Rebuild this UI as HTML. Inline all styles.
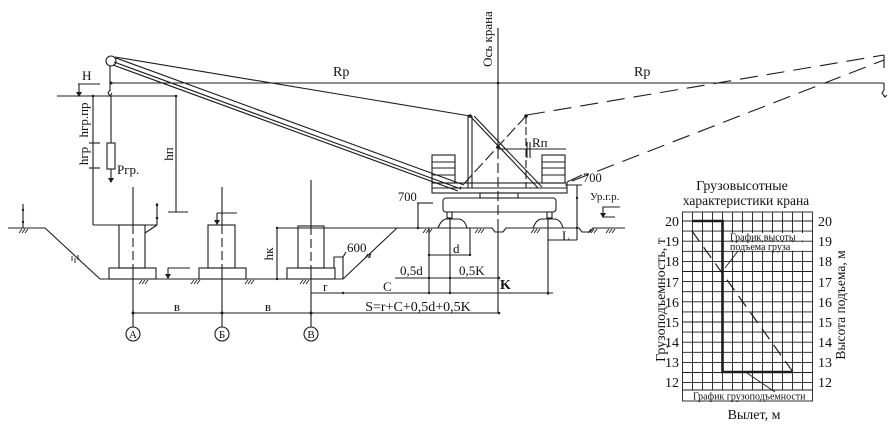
<!DOCTYPE html>
<html><head><meta charset="utf-8"><style>
html,body{margin:0;padding:0;background:#fff;}
svg{display:block}
text{font-family:"Liberation Serif","DejaVu Serif",serif;fill:#111}
</style></head><body>
<svg width="894" height="426" viewBox="0 0 894 426" xmlns="http://www.w3.org/2000/svg">
<rect width="894" height="426" fill="#fff"/>
<g stroke="#1c1c1c" stroke-width="1.1" fill="none">
<!-- boom tip -->
<circle cx="111" cy="61" r="5"/>
<line x1="115" y1="57" x2="470" y2="116"/>
<line x1="116" y1="58" x2="464" y2="185"/>
<line x1="114" y1="62" x2="461" y2="189"/>
<line x1="113" y1="65" x2="458" y2="191"/>
<!-- Rp line -->
<line x1="111" y1="83" x2="884" y2="83"/>
<!-- hook & load -->
<line x1="110" y1="66" x2="110" y2="91"/>
<path d="M110,90 l-2,3 l2,3 l2,-3"/>
<line x1="57" y1="96" x2="177" y2="96"/>
<line x1="111" y1="96" x2="111" y2="143"/>
<rect x="107" y="143" width="8" height="26"/>
<line x1="111" y1="169" x2="111" y2="180"/>
<!-- H leader -->
<line x1="78" y1="84" x2="100" y2="84"/>
<line x1="79" y1="84" x2="79" y2="93"/>
<!-- hgr dims -->
<line x1="93" y1="96" x2="93" y2="225"/>
<line x1="89" y1="143" x2="100" y2="143"/>
<line x1="89" y1="168" x2="100" y2="168"/>
<line x1="176" y1="96" x2="176" y2="212"/>
<line x1="168" y1="212" x2="188" y2="212"/>
<!-- left tick -->
<line x1="23" y1="204" x2="23" y2="228"/>
<!-- ground -->
<path d="M8,228 L45,228 L100,279 L343,279 L397,228 L492,228 L495,232 L503,232 L506,228 L579,228 L582,232 L590,232 L593,228 L625,228"/>
<line x1="277" y1="228" x2="397" y2="228"/>
<!-- pier A -->
<line x1="93" y1="225" x2="157" y2="225"/>
<rect x="119" y="225" width="26" height="43"/>
<line x1="145" y1="233" x2="157" y2="225"/>
<line x1="157" y1="203" x2="157" y2="225"/>
<rect x="109" y="268" width="47" height="11"/>
<!-- level marker -->
<line x1="168" y1="268" x2="190" y2="268"/>
<line x1="168" y1="268" x2="168" y2="275"/>
<!-- pier B -->
<rect x="208" y="225" width="27" height="43"/>
<rect x="199" y="268" width="47" height="11"/>
<line x1="217" y1="213" x2="237" y2="213"/>
<line x1="217" y1="213" x2="217" y2="221"/>
<!-- pier V -->
<rect x="298" y="226" width="26" height="42"/>
<rect x="287" y="268" width="48" height="11"/>
<path d="M334,268 L334,257 L343,257 L343,279"/>
<line x1="343" y1="257" x2="346" y2="252"/>
<!-- hk -->
<line x1="277" y1="228" x2="277" y2="279"/>
<!-- centerlines -->
<line x1="133" y1="187" x2="133" y2="225"/>
<line x1="133" y1="225" x2="133" y2="268" stroke-dasharray="9,4"/>
<line x1="133" y1="268" x2="133" y2="327"/>
<line x1="222" y1="187" x2="222" y2="225"/>
<line x1="222" y1="225" x2="222" y2="268" stroke-dasharray="9,4"/>
<line x1="222" y1="268" x2="222" y2="327"/>
<line x1="311" y1="180" x2="311" y2="226"/>
<line x1="311" y1="226" x2="311" y2="268" stroke-dasharray="9,4"/>
<line x1="311" y1="268" x2="311" y2="327"/>
<circle cx="133" cy="334" r="7"/>
<circle cx="222" cy="334" r="7"/>
<circle cx="311" cy="334" r="7"/>
<!-- dims -->
<line x1="133" y1="313" x2="499" y2="313"/>
<line x1="311" y1="293" x2="553" y2="293"/>
<line x1="395" y1="278" x2="499" y2="278"/>
<line x1="429" y1="255" x2="470" y2="255"/>
<line x1="429" y1="228" x2="429" y2="293"/>
<line x1="450" y1="218" x2="450" y2="293"/>
<line x1="470" y1="228" x2="470" y2="256"/>
<line x1="548" y1="218" x2="548" y2="295"/>
<line x1="577" y1="185" x2="577" y2="240"/>
<line x1="548" y1="240" x2="577" y2="240"/>
<line x1="565" y1="185" x2="582" y2="185"/>
<line x1="418" y1="203" x2="418" y2="228"/>
<line x1="417" y1="203" x2="433" y2="203"/>
<line x1="567" y1="182" x2="582" y2="175"/>
<!-- axis -->
<line x1="498" y1="28" x2="498" y2="135"/>
<line x1="498" y1="135" x2="498" y2="225" stroke-dasharray="10,4"/>
<line x1="498" y1="225" x2="498" y2="313"/>
<!-- mast -->
<line x1="468" y1="116" x2="468" y2="188"/>
<line x1="472" y1="116" x2="472" y2="188"/>
<line x1="470" y1="116" x2="538" y2="188"/>
<line x1="474" y1="116" x2="542" y2="187"/>
<line x1="526" y1="116" x2="526" y2="188" stroke-dasharray="8,3"/>
<line x1="526" y1="116" x2="460" y2="188" stroke-dasharray="12,4"/>
<line x1="498" y1="149" x2="566" y2="149"/>
<line x1="527" y1="142" x2="527" y2="158"/>
<line x1="530" y1="142" x2="530" y2="158"/>
<!-- counterweights -->
<rect x="432" y="155" width="23" height="28"/>
<line x1="432" y1="162" x2="455" y2="162"/>
<line x1="432" y1="168" x2="455" y2="168"/>
<line x1="432" y1="175" x2="455" y2="175"/>
<rect x="542" y="155" width="23" height="28"/>
<line x1="542" y1="162" x2="565" y2="162"/>
<line x1="542" y1="168" x2="565" y2="168"/>
<line x1="542" y1="175" x2="565" y2="175"/>
<rect x="432" y="183" width="135" height="10"/>
<line x1="432" y1="188" x2="567" y2="188"/>
<rect x="480" y="193" width="38" height="5"/>
<rect x="443" y="198" width="113" height="14" rx="3"/>
<rect x="447" y="212" width="5" height="6"/>
<rect x="547" y="212" width="5" height="6"/>
<path d="M438,228 Q441,220 446,219 L459,219 Q465,220 467,228"/>
<path d="M533,228 Q536,220 541,219 L555,219 Q561,220 563,228"/>
<!-- dashed boom -->
<line x1="527" y1="115" x2="884" y2="55" stroke-dasharray="18,9"/>
<line x1="572" y1="181" x2="884" y2="60" stroke-dasharray="18,9"/>
<line x1="884" y1="55" x2="884" y2="68"/>
<path d="M884,83 L884,90 l-2,3 l3,4 l2,-2"/>
<!-- Ur.g.r -->
<path d="M620,207 L603,207 L603,217 L615,217"/>
<!-- hatches -->
<path d="M19,233 l3,-4 M22,233 l3,-4 M25,233 l3,-4
M139,284 l3,-4 M142,284 l3,-4 M145,284 l3,-4
M191,284 l3,-4 M194,284 l3,-4 M197,284 l3,-4
M245,284 l3,-4 M248,284 l3,-4 M251,284 l3,-4
M300,284 l3,-4 M303,284 l3,-4 M306,284 l3,-4
M423,233 l3,-4 M426,233 l3,-4 M429,233 l3,-4
M475,233 l3,-4 M478,233 l3,-4 M481,233 l3,-4
M531,233 l3,-4 M534,233 l3,-4 M537,233 l3,-4
M588,233 l3,-4 M591,233 l3,-4 M594,233 l3,-4
M606,233 l3,-4 M609,233 l3,-4 M612,233 l3,-4
M72,256 l0,5 M75,258 l0,5 M78,260 l0,-5
M365,258 l3,-4 M368,258 l3,-4 M370,258 l0,-5" stroke-width="0.9"/>
</g>
<!-- arrowheads / dots -->
<g fill="#1c1c1c">
<path d="M108,178 L114,178 L111,183 Z"/>
<path d="M76,92 L82,92 L79,97 Z"/>
<path d="M165,274 L171,274 L168,279 Z"/>
<path d="M214,220 L220,220 L217,225 Z"/>
<path d="M600,213 L606,213 L603,218 Z"/>
<circle cx="111" cy="83" r="1.5"/>
<circle cx="93" cy="96" r="1.3"/>
<circle cx="176" cy="96" r="1.3"/>
<circle cx="133" cy="313" r="1.5"/>
<circle cx="222" cy="313" r="1.5"/>
<circle cx="311" cy="313" r="1.5"/>
<circle cx="499" cy="313" r="1.3"/>
<circle cx="157" cy="205" r="1.3"/>
<circle cx="157" cy="218" r="1.3"/>
<circle cx="23" cy="210" r="1.2"/>
<circle cx="23" cy="222" r="1.2"/>
<circle cx="277" cy="228" r="1.2"/>
<circle cx="277" cy="279" r="1.2"/>
<circle cx="343" cy="293" r="1.2"/>
<circle cx="429" cy="293" r="1.2"/>
<circle cx="450" cy="293" r="1.2"/>
<circle cx="548" cy="293" r="1.2"/>
<circle cx="429" cy="278" r="1.2"/>
<circle cx="450" cy="278" r="1.2"/>
<circle cx="499" cy="278" r="1.2"/>
<circle cx="429" cy="255" r="1.2"/>
<circle cx="470" cy="255" r="1.2"/>
<circle cx="577" cy="198" r="1.2"/>
<circle cx="577" cy="228" r="1.2"/>
<circle cx="418" cy="228" r="1.2"/>
<circle cx="498" cy="83" r="1.3"/>
<circle cx="498" cy="147" r="1.8"/>
<circle cx="470" cy="116" r="1.8"/>
<circle cx="526" cy="116" r="1.8"/>
</g>
<!-- labels -->
<g font-size="13">
<text x="82" y="80">H</text>
<text x="117" y="174">Pгр.</text>
<text transform="translate(88,120) rotate(-90)" text-anchor="middle">hгр.пр</text>
<text transform="translate(88,156) rotate(-90)" text-anchor="middle">hгр</text>
<text transform="translate(173,154) rotate(-90)" text-anchor="middle">hп</text>
<text transform="translate(273,254) rotate(-90)" text-anchor="middle">hк</text>
<text x="333" y="76" font-size="14">Rp</text>
<text x="634" y="76" font-size="14">Rp</text>
<text transform="translate(492,39) rotate(-90)" text-anchor="middle">Ось крана</text>
<text x="532" y="147">Rп</text>
<text x="398" y="201" font-size="12.5">700</text>
<text x="583" y="182" font-size="12.5">700</text>
<text x="347" y="252">600</text>
<text x="590" y="200" font-size="11">Ур.г.р.</text>
<text x="562" y="240">L</text>
<text x="453" y="253">d</text>
<text x="400" y="275">0,5d</text>
<text x="459" y="275">0,5K</text>
<text x="500" y="289" font-weight="bold" font-size="14">K</text>
<text x="383" y="291">C</text>
<text x="323" y="291">r</text>
<text x="418" y="311" text-anchor="middle" font-size="14">S=r+C+0,5d+0,5K</text>
<text x="177" y="311" text-anchor="middle">в</text>
<text x="268" y="311" text-anchor="middle">в</text>
<text x="133" y="338" text-anchor="middle" font-size="11">А</text>
<text x="222" y="338" text-anchor="middle" font-size="11">Б</text>
<text x="311" y="338" text-anchor="middle" font-size="11">В</text>
</g>
<!-- chart -->
<g stroke="#1c1c1c" stroke-width="0.9" fill="none">
<rect x="682.5" y="212" width="130" height="189"/>
<path d="M692.5,212V390 M702.5,212V390 M712.5,212V390 M722.5,212V390 M732.5,212V390 M742.5,212V390 M752.5,212V390 M762.5,212V390 M772.5,212V390 M782.5,212V390 M792.5,212V390 M802.5,212V390"/>
<path d="M682.5,221H812.5 M682.5,231.1H812.5 M682.5,241.2H812.5 M682.5,251.3H812.5 M682.5,261.4H812.5 M682.5,271.5H812.5 M682.5,281.6H812.5 M682.5,291.7H812.5 M682.5,301.8H812.5 M682.5,311.9H812.5 M682.5,322H812.5 M682.5,332.1H812.5 M682.5,342.2H812.5 M682.5,352.3H812.5 M682.5,362.4H812.5 M682.5,372.5H812.5 M682.5,382.6H812.5 M682.5,390H812.5"/>
</g>
<rect x="727" y="233" width="85" height="7.5" fill="#fff"/>
<rect x="727" y="242.2" width="85" height="8.5" fill="#fff"/>
<rect x="683.5" y="390.8" width="128.5" height="9.6" fill="#fff"/>
<g stroke="#1c1c1c" fill="none">
<path d="M692.5,221 L722.5,221 L722.5,372 L792.5,372" stroke-width="2.6"/>
<line x1="692" y1="231" x2="793" y2="372" stroke-width="1.2" stroke-dasharray="13,7"/>
<line x1="725" y1="268" x2="738" y2="251" stroke-width="0.9"/>
<line x1="747" y1="373" x2="775" y2="392" stroke-width="0.9"/>
</g>
<g font-size="10">
<text x="730" y="240.5">График высоты</text>
<text x="730" y="250">подъема груза</text>
<text x="693" y="399.5">График грузоподъемности</text>
</g>
<g font-size="14">
<text x="742" y="190" text-anchor="middle">Грузовысотные</text>
<text x="746" y="205" text-anchor="middle" font-size="13.5">характеристики крана</text>
<text x="754" y="419" text-anchor="middle">Вылет, м</text>
<text transform="translate(665,300) rotate(-90)" text-anchor="middle">Грузоподъемность, т</text>
<text transform="translate(845,305) rotate(-90)" text-anchor="middle" font-size="13.5">Высота подъема, м</text>
</g>
<g font-size="14" text-anchor="end">
<text x="679" y="226">20</text><text x="679" y="246">19</text><text x="679" y="266">18</text>
<text x="679" y="287">17</text><text x="679" y="307">16</text><text x="679" y="327">15</text>
<text x="679" y="347">14</text><text x="679" y="367">13</text><text x="679" y="387">12</text>
</g>
<g font-size="14">
<text x="818" y="226">20</text><text x="818" y="246">19</text><text x="818" y="266">18</text>
<text x="818" y="287">17</text><text x="818" y="307">16</text><text x="818" y="327">15</text>
<text x="818" y="347">14</text><text x="818" y="367">13</text><text x="818" y="387">12</text>
</g>
</svg>
</body></html>
